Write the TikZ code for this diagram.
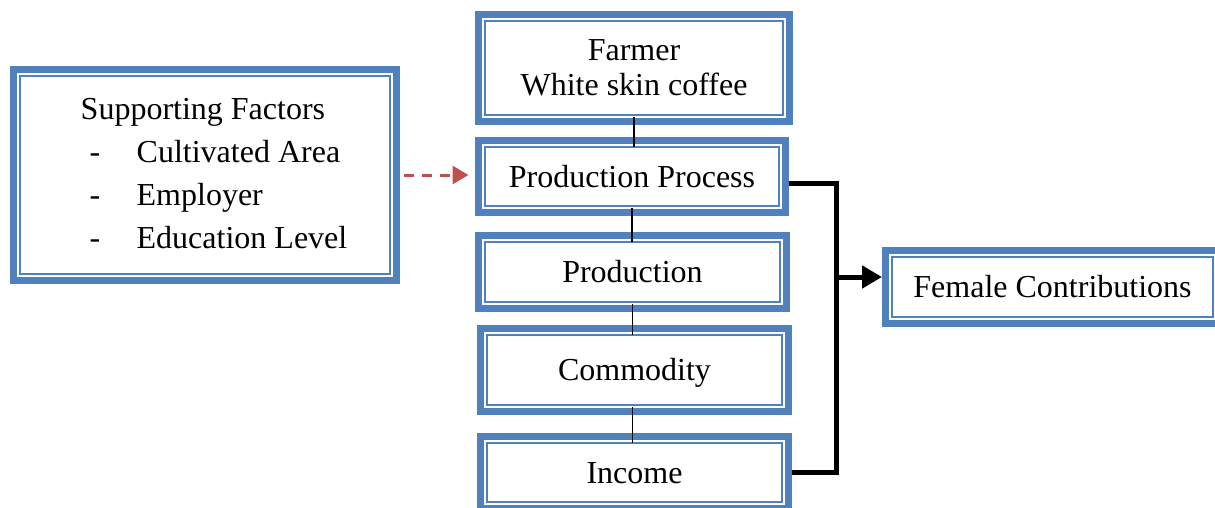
\documentclass[tikz,border=0pt]{standalone}
\usepackage{fontspec}
\setmainfont{Liberation Serif}
\usetikzlibrary{arrows.meta}
\newcommand{\px}{0.5pt}
\definecolor{boxblue}{RGB}{79,129,189}
\definecolor{dashred}{RGB}{192,80,77}
\tikzset{
    framebox/.style={draw=boxblue, line width=3.5pt, fill=white, inner sep=0pt,
        align=center, font=\fontsize{16}{17.5}\selectfont,
        path picture={\draw[boxblue, line width=0.75pt]
            ([shift={(3.25pt,3.25pt)}]path picture bounding box.south west) rectangle
            ([shift={(-3.25pt,-3.25pt)}]path picture bounding box.north east);}},
    oneline/.style={framebox, text height=10.6pt, text depth=0pt},
    link/.style={draw=black, line width=0.9pt, shorten <=-4pt, shorten >=-5pt},
    elbow/.style={draw=black, line width=2.5pt},
    dasharrow/.style={draw=dashred, line width=1.5pt, dash pattern=on 5pt off 4pt,
        -{Triangle[length=8pt,width=9pt]}},
}
\begin{document}
\begin{tikzpicture}[x=\px, y=-\px]
    \useasboundingbox (0,0) rectangle (1215,508);
    \node[framebox, minimum width=155.5pt, minimum height=53.5pt] (farmer) at (634,68) {Farmer\\White skin coffee};
    \node[oneline, minimum width=153.5pt, minimum height=36pt] (process) at (632,176.5) {Production Process};
    \node[oneline, minimum width=154pt, minimum height=36.5pt] (production) at (632.5,272) {Production};
    \node[oneline, minimum width=154pt, minimum height=41.5pt] (commodity) at (634.5,370) {Commodity};
    \node[oneline, minimum width=154pt, minimum height=36pt] (income) at (634.5,472.5) {Income};
    \node[framebox, minimum width=191.5pt, minimum height=105.5pt,
        font=\fontsize{16}{21.5}\selectfont] (support) at (205,175) {
        \begin{tabular}{@{\hspace{9pt}}l@{}}
            Supporting Factors\\
            \makebox[28pt][l]{\hspace{4.5pt}-}Cultivated Area\\
            \makebox[28pt][l]{\hspace{4.5pt}-}Employer\\
            \makebox[28pt][l]{\hspace{4.5pt}-}Education Level
        \end{tabular}};
    \node[oneline, minimum width=167pt, minimum height=36.5pt] (female) at (1052.5,287) {Female Contributions};

    \draw[link] (farmer.south) -- (farmer.south |- process.north);
    \draw[link] (process.south) -- (process.south |- production.north);
    \draw[link] (production.south) -- (production.south |- commodity.north);
    \draw[link] (commodity.south -| production.south) -- (production.south |- income.north);

    \coordinate (trunk) at (836,277);
    \draw[elbow] ([yshift=-3.25pt]process.east) -| (trunk) |- (income.east);
    \draw[elbow, -{Triangle[length=10pt,width=11pt]}] (trunk) -- (trunk -| female.west);
    \draw[dasharrow, shorten <=1.75pt, shorten >=3.25pt] (support.east) -- (support.east -| process.west);
\end{tikzpicture}
\end{document}
